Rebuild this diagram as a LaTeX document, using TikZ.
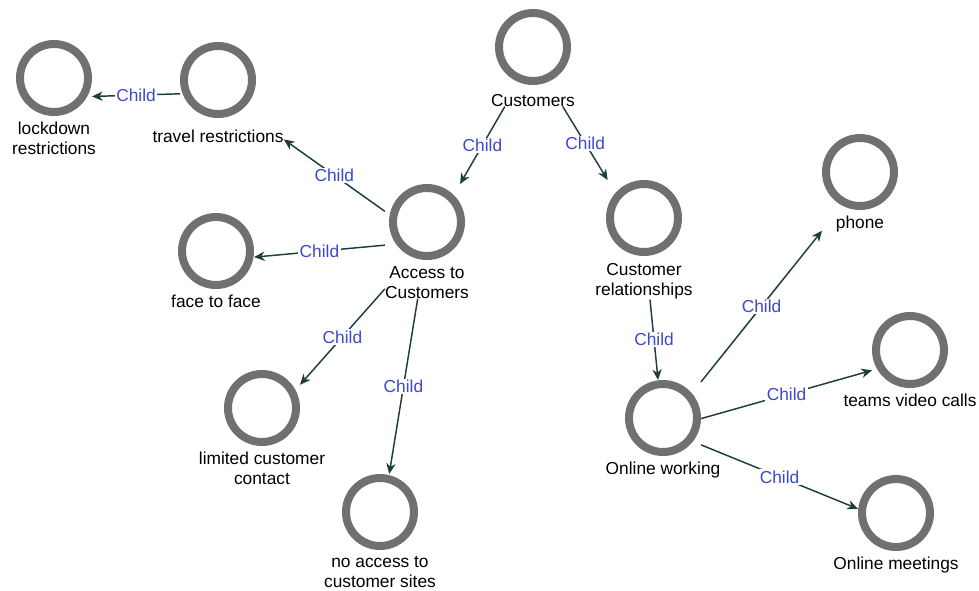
\documentclass[tikz,border=0pt]{standalone}
\usepackage{fontspec}
\setmainfont{Liberation Sans}
\usetikzlibrary{positioning,fit,arrows.meta}
\definecolor{ringgray}{RGB}{112,112,112}
\definecolor{edgeteal}{RGB}{30,62,62}
\definecolor{childblue}{RGB}{62,72,204}
\tikzset{ring/.style={circle, draw=ringgray, line width=6pt, minimum size=51pt, inner sep=0pt},
         conceptlabel/.style={align=center, inner sep=0pt, below=4.5pt of #1, font=\fontsize{13}{15}\selectfont},
         conceptbox/.style={inner sep=0pt, outer sep=0pt, fit=#1},
         childedge/.style={draw=edgeteal, line width=1.1pt, -{Stealth[length=8pt,width=7pt,inset=2.5pt]}},
         childlabel/.style={text=childblue, fill=white, inner sep=1pt, font=\fontsize{13}{15}\selectfont}}

\begin{document}
\begin{tikzpicture}[x=0.75pt,y=-0.75pt]
                \useasboundingbox (0,0) rectangle (979,590);

                \node[ring] (rcust) at (533,47) {};
                \node[conceptlabel=rcust, yshift=-2pt] (tcust) {Customers};
                \node[conceptbox={(rcust)(tcust)}] (cust) {};

                \node[ring] (raccess) at (427,222) {};
                \node[conceptlabel=raccess] (taccess) {Access to\\Customers};
                \node[conceptbox={(raccess)(taccess)}] (access) {};

                \node[ring] (rcustrel) at (644,218) {};
                \node[conceptlabel=rcustrel, yshift=-1pt] (tcustrel) {Customer\\relationships};
                \node[conceptbox={(rcustrel)(tcustrel.south)}] (custrel) {};

                \node[ring] (rtravel) at (218,80) {};
                \node[conceptlabel=rtravel, yshift=-4.5pt] (ttravel) {travel restrictions};
                \node[conceptbox={(rtravel)(ttravel.south)}] (travel) {};
                \node[conceptbox={(rtravel)(ttravel)}] (travelin) {};

                \node[ring] (rlockdown) at (54,78) {};
                \node[conceptlabel=rlockdown] (tlockdown) {lockdown\\restrictions};
                \node[conceptbox={(rlockdown)(tlockdown.south)}] (lockdown) {};

                \node[ring] (rface) at (216,251) {};
                \node[conceptlabel=rface] (tface) {face to face};
                \node[conceptbox={(rface)(tface.south)}] (face) {};

                \node[ring] (rlimited) at (262,408) {};
                \node[conceptlabel=rlimited] (tlimited) {limited customer\\contact};
                \node[conceptbox={(rlimited)(tlimited.south)}] (limited) {};

                \node[ring] (rnoaccess) at (380,512) {};
                \node[conceptlabel=rnoaccess] (tnoaccess) {no access to\\customer sites};
                \node[conceptbox={(rnoaccess)(tnoaccess.south)}] (noaccess) {};

                \node[ring] (ronline) at (663,418) {};
                \node[conceptlabel=ronline] (tonline) {Online working};
                \node[conceptbox={(ronline)(tonline.south)}] (online) {};

                \node[ring] (rphone) at (860,172) {};
                \node[conceptlabel=rphone] (tphone) {phone};
                \node[conceptbox={(rphone)(tphone.south)}] (phone) {};

                \node[ring] (rteams) at (910,350) {};
                \node[conceptlabel=rteams] (tteams) {teams video calls};
                \node[conceptbox={(rteams)(tteams.south)}] (teams) {};

                \node[ring] (rmeetings) at (896,513) {};
                \node[conceptlabel=rmeetings] (tmeetings) {Online meetings};
                \node[conceptbox={(rmeetings)(tmeetings.south)}] (meetings) {};

                \draw[childedge] (cust) -- node[childlabel] {Child} (access);
                \draw[childedge] (cust) -- node[childlabel] {Child} (custrel);

                \draw[childedge] (access) -- node[childlabel] {Child} (travelin);
                \draw[childedge] (travel) -- node[childlabel] {Child} (lockdown);
                \draw[childedge] (access) -- node[childlabel] {Child} (face);
                \draw[childedge] (access) -- node[childlabel] {Child} (limited);
                \draw[childedge] (access) -- node[childlabel] {Child} (noaccess);

                \draw[childedge] (custrel) -- node[childlabel] {Child} (online);
                \draw[childedge] (online) -- node[childlabel] {Child} (phone);
                \draw[childedge] (online) -- node[childlabel] {Child} (teams);
                \draw[childedge] (online) -- node[childlabel] {Child} (meetings);
            \end{tikzpicture}
\end{document}
